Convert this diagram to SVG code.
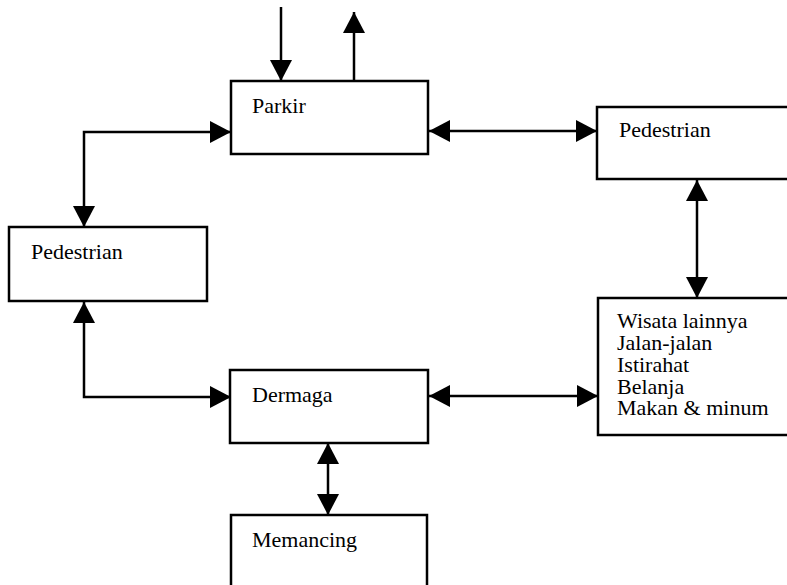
<svg xmlns="http://www.w3.org/2000/svg" width="787" height="585" viewBox="0 0 787 585">
  <style>
    .box { fill: #fff; stroke: #000; stroke-width: 2.5; }
    .wire { fill: none; stroke: #000; stroke-width: 2.5; }
  </style>
  <defs>
    <marker id="head" markerUnits="userSpaceOnUse" markerWidth="21" markerHeight="22" viewBox="0 0 21 22" refX="21" refY="11" orient="auto-start-reverse">
      <path d="M0,0 L21,11 L0,22 Z" fill="#000"/>
    </marker>
  </defs>
  <rect width="787" height="585" fill="#fff"/>

  <g id="connectors">
    <!-- entry into parking -->
    <line class="wire" x1="281" y1="7" x2="281" y2="81" marker-end="url(#head)"/>
    <!-- exit from parking -->
    <line class="wire" x1="354" y1="81" x2="354" y2="12" marker-end="url(#head)"/>
    <!-- Parkir <-> Pedestrian (right) -->
    <line class="wire" x1="429" y1="131" x2="597" y2="131" marker-start="url(#head)" marker-end="url(#head)"/>
    <!-- Parkir <-> Pedestrian (left) -->
    <polyline class="wire" points="231,132 84,132 84,227" marker-start="url(#head)" marker-end="url(#head)"/>
    <!-- Pedestrian (left) <-> Dermaga -->
    <polyline class="wire" points="84,302 84,397 231,397" marker-start="url(#head)" marker-end="url(#head)"/>
    <!-- Pedestrian (right) <-> Wisata lainnya -->
    <line class="wire" x1="697" y1="180" x2="697" y2="298" marker-start="url(#head)" marker-end="url(#head)"/>
    <!-- Dermaga <-> Wisata lainnya -->
    <line class="wire" x1="429" y1="396" x2="598" y2="396" marker-start="url(#head)" marker-end="url(#head)"/>
    <!-- Dermaga <-> Memancing -->
    <line class="wire" x1="328" y1="443" x2="328" y2="515" marker-start="url(#head)" marker-end="url(#head)"/>
  </g>

  <g font-family="'Liberation Serif', 'Times New Roman', serif" font-size="22" fill="#000">
    <g id="parkir">
      <rect class="box" x="231" y="81" width="197" height="73"/>
      <text x="252" y="113">Parkir</text>
    </g>

    <g id="pedestrian-right">
      <rect class="box" x="597" y="107" width="200" height="72"/>
      <text x="619" y="137">Pedestrian</text>
    </g>

    <g id="pedestrian-left">
      <rect class="box" x="9" y="227" width="198" height="74"/>
      <text x="31" y="259">Pedestrian</text>
    </g>

    <g id="wisata">
      <rect class="box" x="598" y="298" width="200" height="137"/>
      <text x="617" y="328">Wisata lainnya</text>
      <text x="617" y="350">Jalan-jalan</text>
      <text x="617" y="372">Istirahat</text>
      <text x="617" y="394">Belanja</text>
      <text x="617" y="415">Makan &amp; minum</text>
    </g>

    <g id="dermaga">
      <rect class="box" x="230" y="370" width="198" height="73"/>
      <text x="252" y="402">Dermaga</text>
    </g>

    <g id="memancing">
      <rect class="box" x="231" y="515" width="196" height="80"/>
      <text x="252" y="547">Memancing</text>
    </g>
  </g>
</svg>
